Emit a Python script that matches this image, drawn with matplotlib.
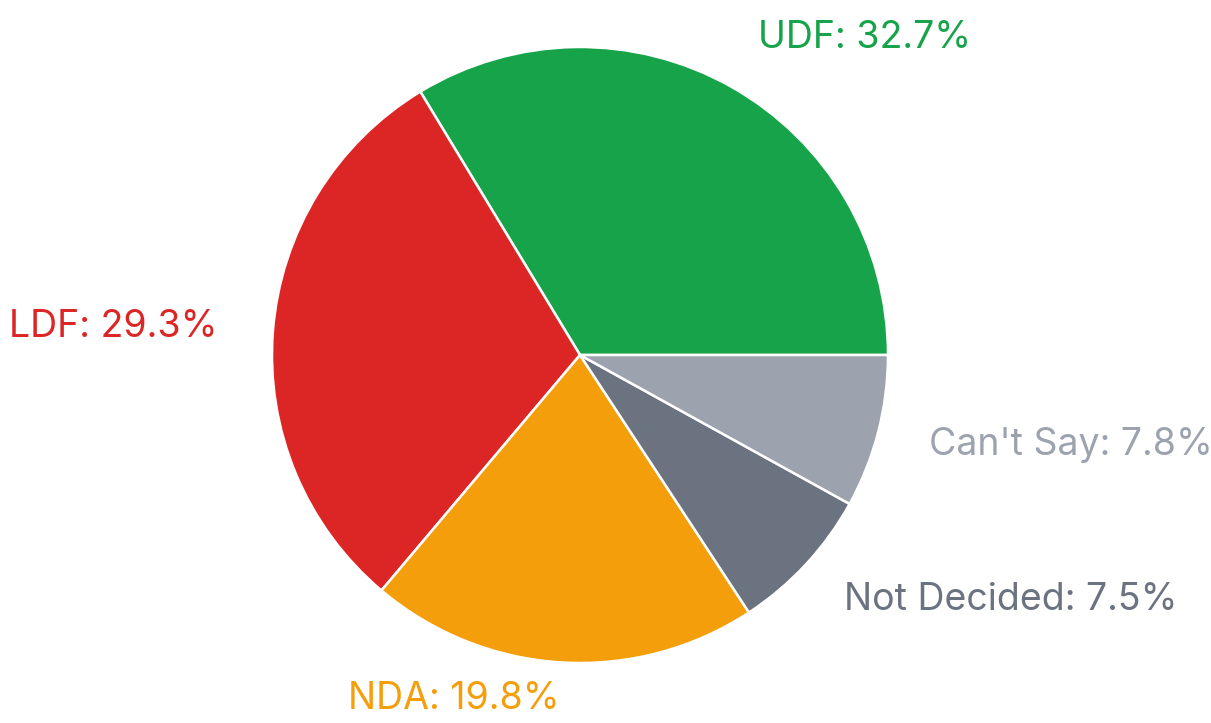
import matplotlib
matplotlib.use('Agg')
import matplotlib.pyplot as plt
import numpy as np

# vote share by front
parties = ['UDF', 'LDF', 'NDA', 'Not Decided', "Can't Say"]
shares = [32.7, 29.3, 19.8, 7.5, 7.8]
colors = ['#16a34a', '#dc2626', '#f59e0b', '#6b7280', '#9ca3af']

plt.rcParams['font.family'] = ['Inter', 'DejaVu Sans']

fig = plt.figure(figsize=(12.11, 7.23), dpi=100)
# pie centre ~ (580, 355) px, radius ~ 308 px
W, H = 1211, 723
cx, cy, r = 580, 355, 308
ax = fig.add_axes([(cx - r) / W, (H - cy - r) / H, 2 * r / W, 2 * r / H])

labels = [f'{p}: {s}%' for p, s in zip(parties, shares)]
wedges, texts = ax.pie(shares, colors=colors, labels=labels, startangle=0,
                       counterclock=True, labeldistance=1.17,
                       wedgeprops=dict(edgecolor='white', linewidth=1.8))

# label distances tweaked per slice
dist = [1.18, 1.18, 1.12, 1.17, 1.17]
for w, t, c, d in zip(wedges, texts, colors, dist):
    mid = np.deg2rad((w.theta1 + w.theta2) / 2)
    t.set_position((d * np.cos(mid), d * np.sin(mid)))
    t.set_color(c)
    t.set_fontsize(27)

ax.set_xlim(-1, 1)
ax.set_ylim(-1, 1)
ax.set_aspect('equal')
ax.axis('off')

fig.savefig('out.png', dpi=100, facecolor='white')
